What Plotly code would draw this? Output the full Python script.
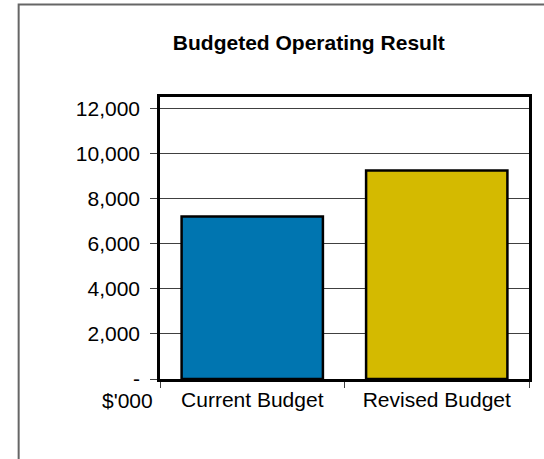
import plotly.graph_objects as go

categories = ["Current Budget", "Revised Budget"]
values = [7200, 9240]
bar_colors = ["#0075B0", "#D4BA00"]
tick_vals = [0, 2000, 4000, 6000, 8000, 10000, 12000]
tick_text = ["-", "2,000", "4,000", "6,000", "8,000", "10,000", "12,000"]

FONT = "Arial, Liberation Sans, sans-serif"

fig = go.Figure(
    go.Bar(
        x=categories,
        y=values,
        marker=dict(color=bar_colors, line=dict(color="black", width=2.5)),
        width=0.766,
    )
)

W, H = 544, 459
L, R, T, B = 160, 12, 97, 80
pw, ph = W - L - R, H - T - B

def px_x(x):
    return (x - L) / pw

def px_y(y):
    return (H - B - y) / ph

fig.update_layout(
    width=W,
    height=H,
    margin=dict(l=L, r=R, t=T, b=B),
    paper_bgcolor="white",
    plot_bgcolor="white",
    showlegend=False,
    font=dict(family=FONT, size=21, color="black"),
    title=dict(
        text="<b>Budgeted Operating Result</b>",
        font=dict(family=FONT, size=21, color="black"),
        x=px_x(310),
        xref="paper",
        xanchor="center",
        y=1 - 42.5 / H,
        yref="container",
        yanchor="middle",
    ),
    xaxis=dict(
        type="category",
        showline=True,
        linecolor="black",
        linewidth=2.5,
        mirror=True,
        ticks="outside",
        tickson="boundaries",
        ticklen=6,
        tickcolor="#404040",
        tickwidth=1,
        showgrid=False,
        tickfont=dict(family=FONT, size=21, color="black"),
    ),
    yaxis=dict(
        range=[0, 12500],
        tickvals=tick_vals,
        ticktext=tick_text,
        showline=True,
        linecolor="black",
        linewidth=2.5,
        mirror=True,
        ticks="outside",
        ticklen=7,
        tickcolor="#404040",
        tickwidth=1,
        ticklabelstandoff=6,
        showgrid=True,
        gridcolor="#404040",
        gridwidth=1,
        zeroline=False,
        tickfont=dict(family=FONT, size=21, color="black"),
    ),
    annotations=[
        dict(
            text="$'000",
            x=px_x(127.5),
            y=px_y(400),
            xref="paper",
            yref="paper",
            xanchor="center",
            yanchor="middle",
            showarrow=False,
            font=dict(family=FONT, size=21, color="black"),
        )
    ],
    shapes=[
        dict(
            type="rect",
            xref="paper",
            yref="paper",
            x0=px_x(17.5),
            x1=px_x(600),
            y0=px_y(600),
            y1=px_y(4.5),
            line=dict(color="#666666", width=2),
            fillcolor="rgba(0,0,0,0)",
            layer="below",
        )
    ],
)

fig.write_html("out.html")
